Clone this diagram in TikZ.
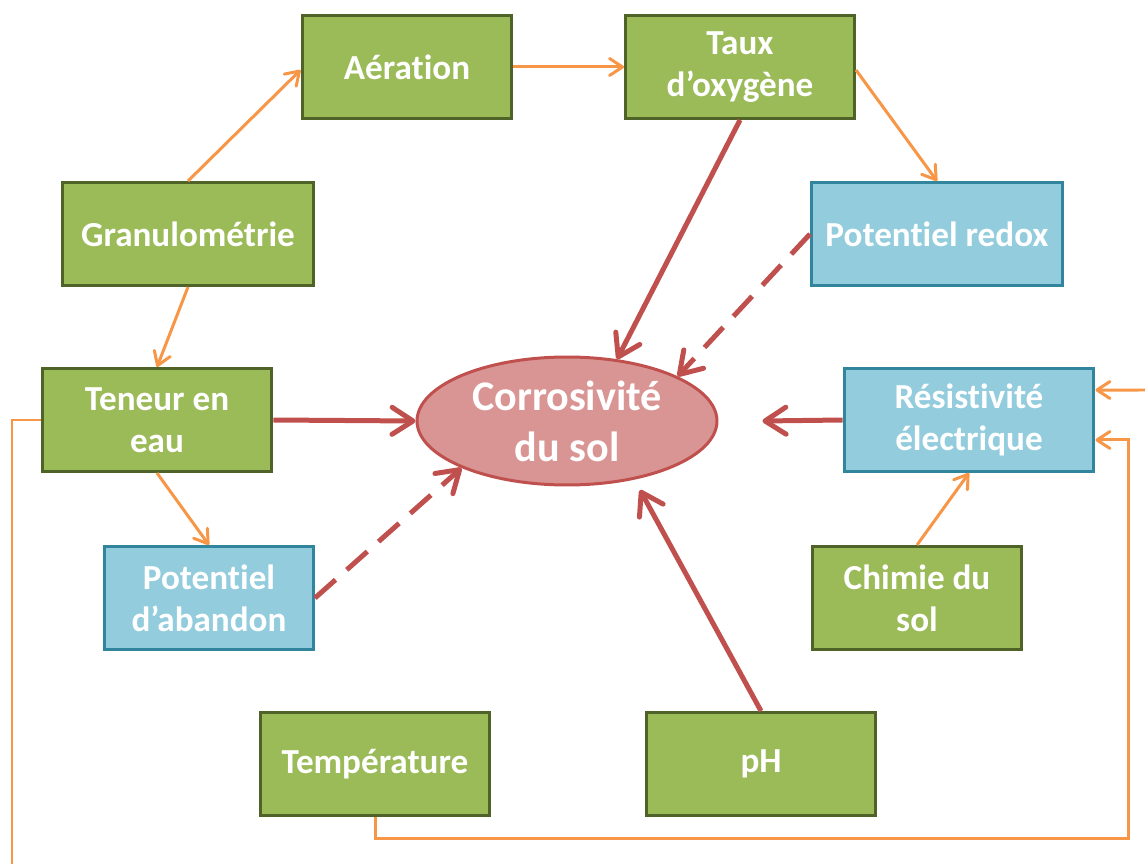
\documentclass[tikz,border=0pt]{standalone}
\usepackage{fontspec}
\setmainfont{Carlito}[Ligatures=NoCommon]
\usetikzlibrary{shapes.geometric,arrows.meta}
\definecolor{boxgreen}{HTML}{9BBB59}
\definecolor{boxgreenline}{HTML}{4F6228}
\definecolor{boxblue}{HTML}{93CDDD}
\definecolor{boxblueline}{HTML}{31859C}
\definecolor{soilred}{HTML}{C0504D}
\definecolor{soilpink}{HTML}{D99594}
\definecolor{linkorange}{HTML}{F79646}

\begin{document}
\begin{tikzpicture}[x=0.02cm,y=-0.02cm,
	factor/.style={draw=boxgreenline,fill=boxgreen,line width=0.06cm,minimum height=2.06cm,
		text=white,font=\bfseries\fontsize{20}{24}\selectfont,align=center,inner sep=0pt},
	measure/.style={factor,draw=boxblueline,fill=boxblue},
	link/.style={draw=linkorange,line width=0.06cm,-{Straight Barb[round,length=0.26cm,width=0.34cm]}},
	wire/.style={draw=linkorange,line width=0.06cm},
	effect/.style={draw=soilred,line width=0.1cm,-{Straight Barb[round,length=0.42cm,width=0.54cm]}},
	weak/.style={effect,dash pattern=on 0.55cm off 0.3cm}]
	\useasboundingbox (0,0) rectangle (1145,864);

	% facteurs
	\node[factor,minimum width=4.2cm] (aer) at (407,67) {Aération};
	\node[factor,minimum width=4.58cm] (oxy) at (740,67) {Taux\\d’oxygène};
	\node[factor,minimum width=5.02cm] (gran) at (188,234) {Granulométrie};
	\node[measure,minimum width=5.02cm] (redox) at (937,234) {Potentiel redox};
	\node[factor,minimum width=4.6cm] (ten) at (157,420) {Teneur en\\eau};
	\node[measure,minimum width=5cm] (resis) at (969,420) {Résistivité\\électrique};
	\node[measure,minimum width=4.18cm] (aband) at (209,598) {Potentiel\\d’abandon};
	\node[factor,minimum width=4.2cm] (chim) at (917,598) {Chimie du\\sol};
	\node[factor,minimum width=4.58cm] (temp) at (375,764) {Température};
	\node[factor,minimum width=4.6cm] (ph) at (761,764) {pH};
	\node[ellipse,draw=soilred,fill=soilpink,line width=0.06cm,minimum width=6cm,minimum height=2.56cm,
		inner sep=0pt,text=white,font=\bfseries\fontsize{24}{29}\selectfont,align=center] (sol) at (567,421) {Corrosivité\\du sol};

	\coordinate (inright) at (1145,390);
	\coordinate (outleft) at (12,864);
	\coordinate (turn) at (1128,838);
	\coordinate (phend) at (640,490);

	% liens orange
	\draw[link] (gran.north) -- ([yshift=-0.06cm]aer.west);
	\draw[link] (aer.east) -- (oxy.west);
	\draw[link] ([yshift=-0.06cm]oxy.east) -- (redox.north);
	\draw[link] (gran.south) -- (ten.north);
	\draw[link] (ten.south) -- (aband.north);
	\draw[link] (chim.north) -- (resis.south);
	\draw[link] (inright) -- ([yshift=0.6cm]resis.east);
	\draw[wire] (ten.west) -| (outleft);
	\draw[link] (temp.south) |- (turn) |- ([yshift=-0.4cm]resis.east);

	% effets sur la corrosivite
	\draw[effect] (oxy.south) -- (sol.51);
	\draw[weak] (redox.west) -- (sol.22);
	\draw[effect] (ten.east) -- (sol.west);
	\draw[effect] (resis.west) -- ([xshift=0.88cm]sol.east);
	\draw[weak] (aband.east) -- (sol.204);
	\draw[effect] (ph.north) -- (phend);
\end{tikzpicture}
\end{document}
